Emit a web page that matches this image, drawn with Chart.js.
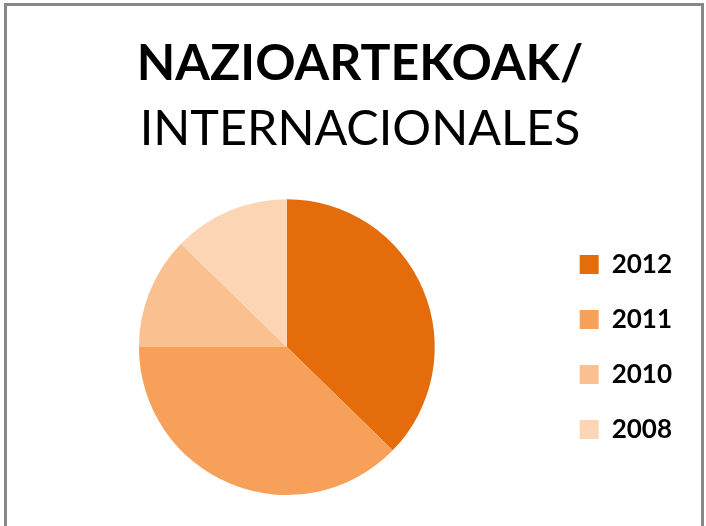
<!DOCTYPE html>
<html>
<head>
<meta charset="utf-8">
<script src="https://cdn.jsdelivr.net/npm/chart.js@4/dist/chart.umd.min.js"></script>
<style>
  html, body { margin: 0; padding: 0; background: #ffffff; width: 706px; height: 526px; overflow: hidden; }
  #frame { position: absolute; left: 4px; top: 3px; width: 700px; height: 600px; box-sizing: border-box;
           border: 3px solid #888888; border-bottom: none; }
  #wrap { position: absolute; left: 0; top: 0; width: 706px; height: 526px; }
</style>
</head>
<body>
<div id="frame"></div>
<div id="wrap"><canvas id="c" width="706" height="526"></canvas></div>
<script>
// ---- data ----
const titleLine1 = 'NAZIOARTEKOAK/';
const titleLine2 = 'INTERNACIONALES';
const categories = ['2012', '2011', '2010', '2008'];
const values = [37.3, 37.7, 12.3, 12.7];
const sliceColors = ['#E46C0A', '#F6A05A', '#FAC090', '#FCD5B5'];

// empty layout box between the pie and the legend (only reserves space)
const spacer = {
  id: 'spacer',
  beforeInit(chart) {
    const box = {
      position: 'right', weight: 500, fullSize: false, options: {},
      left: 0, top: 0, right: 0, bottom: 0, width: 0, height: 0,
      isHorizontal() { return false; },
      update(maxWidth, maxHeight) { this.width = 15; this.height = maxHeight; return {width: 15, height: maxHeight}; },
      draw() {}
    };
    Chart.layouts.addBox(chart, box);
  }
};

new Chart(document.getElementById('c'), {
  type: 'pie',
  data: {
    labels: categories,
    datasets: [{
      data: values,
      backgroundColor: sliceColors,
      borderWidth: 0
    }]
  },
  plugins: [spacer],
  options: {
    responsive: false,
    animation: false,
    layout: { padding: { top: 10, left: 38, right: 24, bottom: 31 } },
    plugins: {
      tooltip: { enabled: false },
      title: {
        display: true,
        text: titleLine1,
        color: '#000000',
        font: { family: 'Lato', size: 50, weight: 'bold', lineHeight: 1.2 },
        padding: { top: 24, bottom: 0 }
      },
      subtitle: {
        display: true,
        text: titleLine2,
        color: '#000000',
        font: { family: 'Lato', size: 48.5, weight: 'normal', lineHeight: 1.2 },
        padding: { top: 6, bottom: 41 }
      },
      legend: {
        position: 'right',
        align: 'center',
        fullSize: false,
        labels: {
          color: '#000000',
          font: { family: 'Lato', size: 26, weight: 'bold' },
          boxWidth: 19,
          boxHeight: 19,
          padding: 29
        }
      }
    }
  }
});
</script>
</body>
</html>
